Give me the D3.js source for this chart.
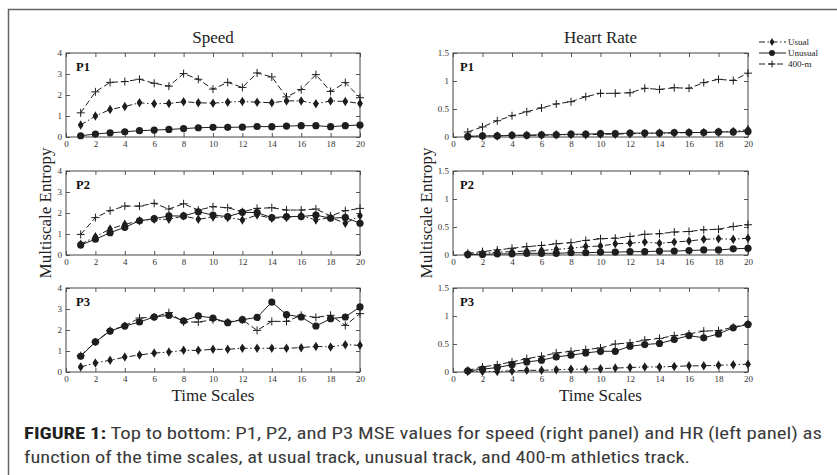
<!DOCTYPE html>
<html><head><meta charset="utf-8">
<script src="https://cdn.jsdelivr.net/npm/d3@7"></script>
<style>
html,body{margin:0;padding:0;background:#fff;}
svg{display:block;}
</style></head>
<body>
<script>
// ---------- DATA ----------
const timeScales = d3.range(1, 21);
const seriesNames = ["Usual", "Unusual", "400-m"];
const xTicks = [0,2,4,6,8,10,12,14,16,18,20];
const speedTicks = [0,1,2,3,4];
const hrTicks = [0,0.5,1,1.5];
const panelLabels = ["P1","P2","P3"];

// Speed
const speedP1Usual   = [0.57,1.0,1.31,1.45,1.63,1.58,1.6,1.68,1.63,1.61,1.66,1.69,1.66,1.63,1.72,1.72,1.58,1.72,1.69,1.6];
const speedP1Unusual = [0.06,0.14,0.2,0.25,0.3,0.33,0.36,0.4,0.44,0.46,0.46,0.47,0.5,0.49,0.52,0.54,0.54,0.49,0.54,0.57];
const speedP1Track   = [1.15,2.15,2.6,2.64,2.75,2.56,2.42,3.02,2.75,2.28,2.6,2.36,3.05,2.86,1.91,2.26,2.97,2.17,2.59,1.87];

const speedP2Usual   = [0.51,0.87,1.24,1.46,1.63,1.7,1.7,1.86,1.7,1.81,1.79,1.67,1.9,1.75,1.79,1.87,1.67,1.78,1.51,1.87];
const speedP2Unusual = [0.48,0.75,1.06,1.32,1.63,1.73,1.86,1.86,2.06,1.9,1.83,2.03,2.02,1.78,1.83,1.83,1.9,1.75,1.79,1.51];
const speedP2Track   = [0.98,1.78,2.11,2.33,2.33,2.46,2.19,2.44,2.14,2.3,2.25,2.06,2.22,2.25,2.14,2.14,2.19,1.86,2.11,2.22];

const speedP3Usual   = [0.24,0.43,0.56,0.71,0.81,0.9,0.95,1.03,1.03,1.08,1.08,1.13,1.13,1.13,1.13,1.16,1.22,1.19,1.3,1.27];
const speedP3Unusual = [0.75,1.43,1.95,2.19,2.38,2.62,2.7,2.44,2.67,2.57,2.35,2.49,2.6,3.33,2.73,2.62,2.19,2.54,2.62,3.1];
const speedP3Track   = [0.78,1.43,1.98,2.2,2.57,2.62,2.83,2.38,2.38,2.49,2.38,2.49,1.98,2.41,2.41,2.7,2.6,2.7,2.22,2.78];

// Heart rate
const hrP1Usual   = [0.01,0.02,0.02,0.03,0.03,0.03,0.04,0.04,0.04,0.05,0.05,0.06,0.06,0.07,0.07,0.08,0.08,0.09,0.1,0.13];
const hrP1Unusual = [0.01,0.02,0.02,0.03,0.03,0.04,0.04,0.05,0.05,0.06,0.06,0.07,0.07,0.07,0.08,0.08,0.08,0.09,0.09,0.1];
const hrP1Track   = [0.09,0.18,0.29,0.38,0.45,0.52,0.59,0.63,0.72,0.78,0.78,0.79,0.87,0.85,0.88,0.87,0.97,1.03,1.01,1.14];

const hrP2Usual   = [0.01,0.03,0.05,0.06,0.07,0.08,0.1,0.12,0.15,0.16,0.2,0.21,0.23,0.21,0.23,0.25,0.28,0.29,0.28,0.3];
const hrP2Unusual = [0.01,0.01,0.02,0.02,0.03,0.03,0.03,0.04,0.04,0.05,0.05,0.06,0.06,0.07,0.07,0.08,0.09,0.09,0.11,0.12];
const hrP2Track   = [0.03,0.06,0.09,0.12,0.15,0.17,0.2,0.22,0.26,0.29,0.3,0.33,0.37,0.38,0.41,0.42,0.45,0.46,0.51,0.54];

const hrP3Usual   = [0.01,0.01,0.01,0.02,0.03,0.03,0.04,0.05,0.05,0.06,0.07,0.08,0.09,0.09,0.1,0.11,0.11,0.12,0.13,0.14];
const hrP3Unusual = [0.02,0.05,0.08,0.13,0.18,0.21,0.27,0.3,0.34,0.37,0.37,0.46,0.49,0.51,0.58,0.65,0.61,0.68,0.79,0.85];
const hrP3Track   = [0.03,0.09,0.13,0.18,0.24,0.28,0.34,0.37,0.4,0.43,0.5,0.52,0.57,0.6,0.65,0.68,0.73,0.74,0.8,0.86];

const speedPanels = [
  [speedP1Usual, speedP1Unusual, speedP1Track],
  [speedP2Usual, speedP2Unusual, speedP2Track],
  [speedP3Usual, speedP3Unusual, speedP3Track]
];
const hrPanels = [
  [hrP1Usual, hrP1Unusual, hrP1Track],
  [hrP2Usual, hrP2Unusual, hrP2Track],
  [hrP3Usual, hrP3Unusual, hrP3Track]
];

// ---------- LAYOUT ----------
const W = 837, H = 475;
const serif = "'Liberation Serif','Times New Roman',serif";
const ink = "#1e1e1e";
const svg = d3.select("body").append("svg").attr("width", W).attr("height", H);

// outer frame (top + left)
svg.append("path").attr("d", `M8.5,${H} V9.5 H${W}`)
  .attr("fill","none").attr("stroke","#666").attr("stroke-width",1.5);

const panelTops = [53, 171, 288];
const panelH = 84;
const cols = [
  {x0: 66, x1: 360, domain: [0,4], ticks: speedTicks, data: speedPanels, title: "Speed", ylabX: 51, plabX: 76},
  {x0: 453, x1: 748, domain: [0,1.5], ticks: hrTicks, data: hrPanels, title: "Heart Rate", ylabX: 432, plabX: 460}
];

const dashes = ["6,2.5,1.5,2.5", null, "6,3"];

function drawMarker(g, kind, x, y) {
  if (kind === 0) {
    g.append("path").attr("d", d3.symbol(d3.symbolDiamond, 26)())
      .attr("transform", `translate(${x},${y})`).attr("fill", ink);
    g.append("circle").attr("cx", x).attr("cy", y).attr("r", 2.4).attr("fill", ink);
  } else if (kind === 1) {
    g.append("circle").attr("cx", x).attr("cy", y).attr("r", 3.6).attr("fill", ink);
  } else {
    g.append("path").attr("d", `M${x-4},${y}H${x+4}M${x},${y-4}V${y+4}`)
      .attr("stroke", ink).attr("stroke-width", 1).attr("fill","none");
  }
}

cols.forEach(col => {
  const x = d3.scaleLinear().domain([0,20]).range([col.x0, col.x1]);
  const cx = (col.x0 + col.x1) / 2;
  // column title
  svg.append("text").attr("x", cx).attr("y", 43).attr("text-anchor","middle")
    .attr("font-family", serif).attr("font-size", 17).attr("fill", "#222").text(col.title);
  // x title
  svg.append("text").attr("x", cx).attr("y", 401).attr("text-anchor","middle")
    .attr("font-family", serif).attr("font-size", 17).attr("fill", "#222").text("Time Scales");
  // y title
  svg.append("text").attr("transform", `translate(${col.ylabX},213) rotate(-90)`)
    .attr("text-anchor","middle").attr("font-family", serif).attr("font-size", 17)
    .attr("fill","#222").text("Multiscale Entropy");

  col.data.forEach((panel, pi) => {
    const top = panelTops[pi], bot = top + panelH;
    const y = d3.scaleLinear().domain(col.domain).range([bot, top]);
    const g = svg.append("g");

    const styleAxis = (sel, labels) => {
      sel.selectAll("path").remove();
      sel.selectAll("line").attr("stroke", "#444").attr("stroke-width", 0.9);
      sel.selectAll("text").attr("font-family", serif).attr("font-size", 9).attr("fill", "#333");
      if (!labels) sel.selectAll("text").remove();
    };
    g.append("g").attr("transform", `translate(0,${bot})`)
      .call(d3.axisBottom(x).tickValues(xTicks).tickSizeInner(-4).tickSizeOuter(0).tickPadding(4))
      .call(s => styleAxis(s, true));
    g.append("g").attr("transform", `translate(0,${top})`)
      .call(d3.axisTop(x).tickValues(xTicks).tickSizeInner(-4).tickSizeOuter(0))
      .call(s => styleAxis(s, false));
    g.append("g").attr("transform", `translate(${col.x0},0)`)
      .call(d3.axisLeft(y).tickValues(col.ticks).tickSizeInner(-4).tickSizeOuter(0).tickPadding(4)
        .tickFormat(d3.format("~g")))
      .call(s => styleAxis(s, true));
    g.append("g").attr("transform", `translate(${col.x1},0)`)
      .call(d3.axisRight(y).tickValues(col.ticks).tickSizeInner(-4).tickSizeOuter(0))
      .call(s => styleAxis(s, false));
    g.append("rect").attr("x", col.x0).attr("y", top).attr("width", col.x1 - col.x0).attr("height", panelH)
      .attr("fill","none").attr("stroke","#444").attr("stroke-width",1);

    // series
    const line = d3.line().x((d,i) => x(timeScales[i])).y(d => y(d));
    [2,0,1].forEach(si => {
      const vals = panel[si];
      g.append("path").attr("d", line(vals)).attr("fill","none").attr("stroke", ink)
        .attr("stroke-width", 1).attr("stroke-dasharray", dashes[si]);
      vals.forEach((v,i) => drawMarker(g, si, x(timeScales[i]), y(v)));
    });

    g.append("text").attr("x", col.plabX).attr("y", top + 18)
      .attr("font-family", serif).attr("font-weight","bold").attr("font-size", 12.5)
      .attr("fill", "#111").text(panelLabels[pi]);
  });
});

// legend
const lg = svg.append("g");
seriesNames.forEach((name, i) => {
  const yy = 42 + i * 11;
  lg.append("line").attr("x1", 759).attr("x2", 786).attr("y1", yy).attr("y2", yy)
    .attr("stroke", ink).attr("stroke-width", 1).attr("stroke-dasharray", dashes[i]);
  if (i === 0) {
    lg.append("path").attr("d", d3.symbol(d3.symbolDiamond, 18)()).attr("transform", `translate(772,${yy})`).attr("fill", ink);
    lg.append("circle").attr("cx", 772).attr("cy", yy).attr("r", 2).attr("fill", ink);
  } else if (i === 1) {
    lg.append("circle").attr("cx", 772).attr("cy", yy).attr("r", 3).attr("fill", ink);
  } else {
    lg.append("path").attr("d", `M768.5,${yy}H775.5M772,${yy-3.5}V${yy+3.5}`).attr("stroke", ink).attr("stroke-width",1);
  }
  lg.append("text").attr("x", 788).attr("y", yy + 3).attr("font-family", serif)
    .attr("font-size", 9).attr("fill", "#222").text(name);
});

// caption
const capFont = "'Liberation Sans Narrow','Arial Narrow','Roboto Condensed','Liberation Sans',sans-serif";
const c1 = svg.append("text").attr("x", 24).attr("y", 439).attr("font-family", capFont)
  .attr("font-size", 16.5).attr("fill", "#3a3a3a")
  .attr("textLength", 798).attr("lengthAdjust", "spacingAndGlyphs");
c1.append("tspan").attr("font-weight","bold").attr("fill","#222").text("FIGURE 1:");
c1.append("tspan").text(" Top to bottom: P1, P2, and P3 MSE values for speed (right panel) and HR (left panel) as");
svg.append("text").attr("x", 24).attr("y", 463).attr("font-family", capFont)
  .attr("font-size", 16.5).attr("fill", "#3a3a3a")
  .attr("textLength", 666).attr("lengthAdjust", "spacingAndGlyphs")
  .text("function of the time scales, at usual track, unusual track, and 400-m athletics track.");
</script>
</body></html>
